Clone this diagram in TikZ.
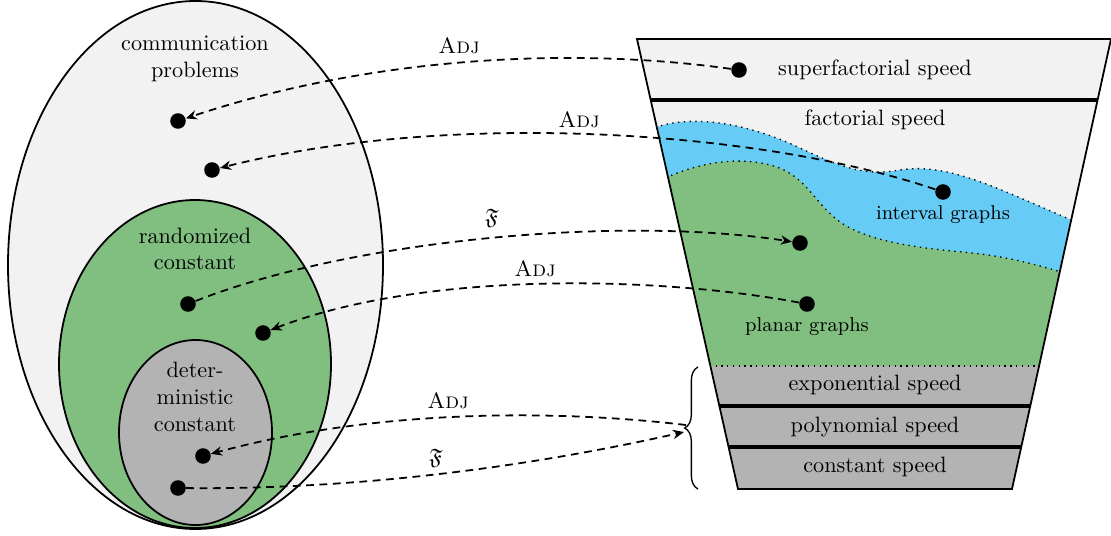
\documentclass[tikz,border=0pt]{standalone}
\usepackage{amssymb}
\usetikzlibrary{arrows.meta,decorations.pathreplacing}
\definecolor{lightbg}{RGB}{242,242,242}
\definecolor{randgreen}{RGB}{128,191,128}
\definecolor{intblue}{RGB}{102,204,245}
\definecolor{detgray}{RGB}{179,179,179}
\tikzset{
  dot/.style={circle,fill,inner sep=0pt,minimum size=7pt},
  reduction/.style={thick,dash pattern=on 3.5pt off 2.5pt},
  redarrow/.style={reduction,-{Stealth[length=5pt,width=4.2pt,inset=1.6pt]}},
  band/.style={line width=1.6pt},
  region/.style={dotted,semithick},
  classlabel/.style={align=center},
}
\def\intervaltop{(640,135) .. controls (670,115) and (730,115) .. (800,148)
  .. controls (850,172) and (870,175) .. (900,170)
  .. controls (950,162) and (1000,190) .. (1090,228)}
\def\planartop{(650,185) .. controls (690,165) and (730,155) .. (770,165)
  .. controls (810,175) and (815,210) .. (850,228)
  .. controls (880,243) and (920,248) .. (963,252)
  .. controls (1006,256) and (1040,265) .. (1080,278)}
\begin{document}
\begin{tikzpicture}[x=0.45pt,y=-0.45pt]
\useasboundingbox (0,0) rectangle (1111,535);
% left: classes of communication problems
\draw[thick,fill=lightbg] (195.5,265) ellipse [x radius=187.5,y radius=264];
\draw[thick,fill=randgreen] (195,364) ellipse [x radius=136,y radius=164];
\draw[thick,fill=detgray] (195.5,432.5) ellipse [x radius=76.5,y radius=92.5];
\node[classlabel] (comm) at (195,59) {communication\\problems};
\node[classlabel] (rand) at (195,249) {randomized\\constant};
\node[classlabel] (det) at (195,397) {deter-\\ministic\\constant};
% right: speeds of hereditary classes
\coordinate (tl) at (637,39);
\coordinate (tr) at (1111,39);
\coordinate (br) at (1012,489);
\coordinate (bl) at (738,489);
\fill[lightbg] (tl) -- (tr) -- (br) -- (bl) -- cycle;
\begin{scope}
  \clip (tl) -- (tr) -- (br) -- (bl) -- cycle;
  \fill[intblue] \intervaltop -- (1100,366) -- (640,366) -- cycle;
  \draw[region] \intervaltop;
  \fill[randgreen] \planartop -- (1100,366) -- (640,366) -- cycle;
  \draw[region] \planartop;
  \fill[detgray] (600,366) rectangle (1150,500);
  \draw[region] (600,366) -- (1150,366);
  \draw[band] (600,100) -- (1150,100);
  \draw[band] (600,406) -- (1150,406);
  \draw[band] (600,447) -- (1150,447);
\end{scope}
\draw[thick] (tl) -- (tr) -- (br) -- (bl) -- cycle;
\node (super) at (875,70) {superfactorial speed};
\node (fact) at (875,120) {factorial speed};
\node (expo) at (875,385) {exponential speed};
\node (poly) at (875,427) {polynomial speed};
\node (const) at (875,467) {constant speed};
\node[font=\small] (intlab) at (943,215) {interval graphs};
\node[font=\small] (plalab) at (807,327) {planar graphs};
\draw[semithick,decorate,decoration={brace,amplitude=6pt}] (698,489) -- (698,367);
\coordinate (bA) at (686,425);
\coordinate (bF) at (684,432);
% dots
\node[dot] (sup) at (739,70) {};
\node[dot] (int) at (943,192) {};
\node[dot] (fpl) at (800,243) {};
\node[dot] (pla) at (807,304) {};
\node[dot] (c1) at (178,121) {};
\node[dot] (c2) at (212,170) {};
\node[dot] (c3) at (188,304) {};
\node[dot] (c4) at (263,333) {};
\node[dot] (c5) at (203,456) {};
\node[dot] (c6) at (178,488) {};
% reductions
\draw[redarrow] (sup) .. controls (560,45) and (360,60) .. (c1);
\draw[redarrow] (int) .. controls (760,130) and (450,110) .. (c2);
\draw[redarrow] (c3) .. controls (350,240) and (620,215) .. (fpl);
\draw[redarrow] (pla) .. controls (650,275) and (420,272) .. (c4);
\draw[redarrow] (bA) .. controls (560,410) and (380,408) .. (c5);
\draw[redarrow] (c6) .. controls (380,490) and (560,460) .. (bF);
\node (adj1) at (459,46) {\textsc{Adj}};
\node (adj2) at (579,120) {\textsc{Adj}};
\node (f1) at (492,218) {$\mathfrak{F}$};
\node (adj3) at (535,269) {\textsc{Adj}};
\node (adj4) at (448,401) {\textsc{Adj}};
\node (f2) at (436,458) {$\mathfrak{F}$};
\end{tikzpicture}
\end{document}
